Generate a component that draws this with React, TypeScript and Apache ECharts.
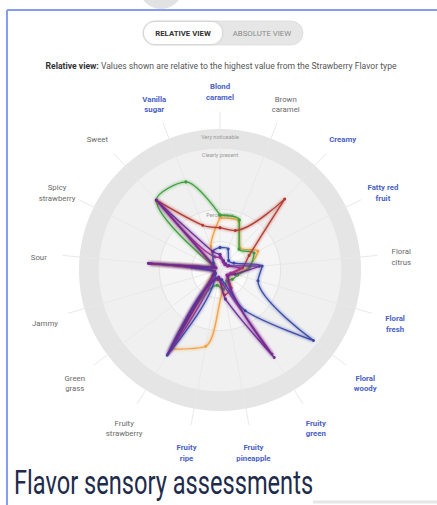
import React, { useEffect, useRef } from 'react';
import * as echarts from 'echarts';

const categories = [
  'Blond caramel', 'Brown caramel', 'Creamy', 'Fatty red fruit', 'Floral citrus',
  'Floral fresh', 'Floral woody', 'Fruity green', 'Fruity pineapple', 'Fruity ripe',
  'Fruity strawberry', 'Green grass', 'Jammy', 'Sour', 'Spicy strawberry', 'Sweet', 'Vanilla sugar',
];
const labelLines = [
  'Blond\ncaramel', 'Brown\ncaramel', 'Creamy', 'Fatty red\nfruit', 'Floral\ncitrus',
  'Floral\nfresh', 'Floral\nwoody', 'Fruity\ngreen', 'Fruity\npineapple', 'Fruity\nripe',
  'Fruity\nstrawberry', 'Green\ngrass', 'Jammy', 'Sour', 'Spicy\nstrawberry', 'Sweet', 'Vanilla\nsugar',
];
const highlighted = [
  'Blond caramel', 'Creamy', 'Fatty red fruit', 'Floral fresh', 'Floral woody',
  'Fruity green', 'Fruity pineapple', 'Fruity ripe', 'Vanilla sugar',
];
const levelNames = ['Very noticeable', 'Clearly present', 'Perceptible', ''];
const levelValues = [100, 86, 43, 20];

const seriesNames = ['Orange', 'Green', 'Red', 'Magenta', 'Blue', 'Purple'];
const orangeValues = [37, 37, 21, 30, 20, 11, 7, 11, 13, 55, 66, 7, 4, 7, 4, 6, 18];
const greenValues = [39, 38, 20, 27, 21, 13, 11, 9, 14, 11, 65, 6, 4, 48, 4, 67, 67];
const redValues = [30, 30, 68, 23, 16, 9, 7, 15, 18, 7, 67, 6, 4, 49, 4, 67, 34];
const magentaValues = [9, 6, 5, 6, 14, 8, 6, 70, 10, 5, 70, 5, 4, 50, 3, 64, 10];
const blueValues = [16, 16, 9, 11, 30, 28, 83, 34, 7, 6, 71, 4, 4, 20, 4, 7, 14];
const purpleValues = [11, 7, 6, 7, 28, 11, 7, 73, 21, 6, 69, 6, 4, 51, 4, 67, 14];

const seriesValues = [orangeValues, greenValues, redValues, magentaValues, blueValues, purpleValues];
const seriesColors = ['#f0a040', '#3a9d3a', '#b5382f', '#a0309a', '#3848a8', '#6a2c91'];

const TITLE = 'Flavor sensory assessments';

export default function App() {
  const ref = useRef<HTMLDivElement>(null);
  useEffect(() => {
    document.body.style.margin = '0';
    if (!ref.current) return;
    const chart = echarts.init(ref.current, undefined, { renderer: 'svg' });

    const CX = 220;
    const CY = 270;
    const R = 158;
    const AXIS_MAX = 112;
    const pxPer = R / AXIS_MAX;
    const n = categories.length;

    let titleScale = 0.75;
    try {
      const c = document.createElement('canvas').getContext('2d');
      if (c) {
        c.font = '400 34px Roboto';
        const w = c.measureText(TITLE).width;
        if (w > 0) titleScale = 299 / w;
      }
    } catch (e) { /* ignore */ }

    const ringFills = ['#e5e5e5', '#f0f0f0', '#f5f5f5', '#fbfbfb'];
    const ringEls: any[] = levelValues.map((v, i) => ({
      type: 'circle',
      z: -10,
      shape: { cx: CX, cy: CY, r: v * pxPer },
      style: { fill: ringFills[i], stroke: i >= 2 ? '#e4e4e4' : 'none', lineWidth: 1 },
    }));
    const ringLabels: any[] = levelValues.map((v, i) => ({
      type: 'text',
      z: 1,
      x: CX,
      y: CY - v * pxPer + (i === 0 ? 8 : 6),
      style: {
        text: levelNames[i], fill: '#9a9a9a', fontSize: 5.5, fontFamily: 'Roboto',
        textAlign: 'center', textVerticalAlign: 'middle',
      },
    }));

    const LR = 182;
    const axisLabels: any[] = categories.map((cat, i) => {
      const a = (i / n) * Math.PI * 2;
      const hl = highlighted.includes(cat);
      return {
        type: 'text',
        x: CX + LR * Math.sin(a),
        y: CY + 4 - LR * Math.cos(a),
        style: {
          text: labelLines[i],
          fill: hl ? '#4a5fc4' : '#6a6a6a',
          fontSize: 7.8,
          fontWeight: hl ? 'bold' : 'normal',
          fontFamily: 'Roboto',
          lineHeight: 10.5,
          textAlign: 'center',
          textVerticalAlign: 'middle',
        },
      };
    });

    const chrome: any[] = [
      { type: 'circle', shape: { cx: 161, cy: -13, r: 22 }, style: { fill: '#e2e2e2' } },
      { type: 'line', shape: { x1: 7, y1: 10, x2: 437, y2: 10 }, style: { stroke: '#859df2', lineWidth: 2 } },
      { type: 'line', shape: { x1: 7, y1: 10, x2: 7, y2: 505 }, style: { stroke: '#859df2', lineWidth: 2 } },
      { type: 'line', shape: { x1: 313, y1: 502, x2: 437, y2: 502 }, style: { stroke: '#e6e6e6', lineWidth: 3 } },
      {
        type: 'rect', shape: { x: 143, y: 21, width: 160, height: 24, r: 12 },
        style: { fill: '#e6e6e6', stroke: '#dcdcdc', lineWidth: 0.8 },
      },
      {
        type: 'rect', shape: { x: 144, y: 22, width: 78, height: 22, r: 11 },
        style: { fill: '#ffffff', shadowBlur: 3, shadowColor: 'rgba(0,0,0,0.15)' },
      },
      {
        type: 'text', x: 183, y: 33,
        style: {
          text: 'RELATIVE VIEW', fill: '#333333', fontSize: 7.8, fontWeight: 'bold', fontFamily: 'Roboto',
          textAlign: 'center', textVerticalAlign: 'middle',
        },
      },
      {
        type: 'text', x: 262, y: 33,
        style: {
          text: 'ABSOLUTE VIEW', fill: '#8a8a8a', fontSize: 7.8, fontFamily: 'Roboto',
          textAlign: 'center', textVerticalAlign: 'middle',
        },
      },
      {
        type: 'text', x: 221, y: 66,
        style: {
          text: '{b|Relative view:} Values shown are relative to the highest value from the Strawberry Flavor type',
          fill: '#555555', fontSize: 8.6, fontFamily: 'Roboto',
          textAlign: 'center', textVerticalAlign: 'middle',
          rich: { b: { fontWeight: 'bold', fill: '#333333', fontSize: 8.6, fontFamily: 'Roboto' } },
        },
      },
      {
        type: 'text', x: 14, y: 499, scaleX: titleScale,
        style: {
          text: TITLE, fill: '#1e2b4a', fontSize: 34, fontWeight: 400, fontFamily: 'Roboto',
          textAlign: 'left', textVerticalAlign: 'bottom',
        },
      },
    ];

    const series: any[] = seriesValues.map((vals, si) => {
      const data = vals.map((v, i) => [v, i]);
      data.push([vals[0], n]);
      const color = seriesColors[si];
      return {
        type: 'line',
        name: seriesNames[si],
        coordinateSystem: 'polar',
        data,
        smooth: 0.3,
        symbol: 'circle',
        symbolSize: 3,
        showSymbol: true,
        z: 3 + si,
        lineStyle: { color, width: 1.3, shadowBlur: 3, shadowColor: color, opacity: 0.95 },
        itemStyle: { color },
      };
    });

    chart.setOption({
      animation: false,
      polar: { center: [CX, CY], radius: R },
      angleAxis: {
        type: 'value', min: 0, max: n, interval: 1, startAngle: 90, clockwise: true,
        axisLine: { show: false }, axisTick: { show: false }, axisLabel: { show: false },
        splitLine: { show: true, lineStyle: { color: '#e9e9e9', width: 1 } },
      },
      radiusAxis: {
        type: 'value', min: 0, max: AXIS_MAX,
        axisLine: { show: false }, axisTick: { show: false }, axisLabel: { show: false },
        splitLine: { show: false },
      },
      graphic: { elements: [...ringEls, ...ringLabels, ...axisLabels, ...chrome] },
      series,
    });
    return () => chart.dispose();
  }, []);
  return <div ref={ref} style={{ width: 437, height: 505 }} />;
}
